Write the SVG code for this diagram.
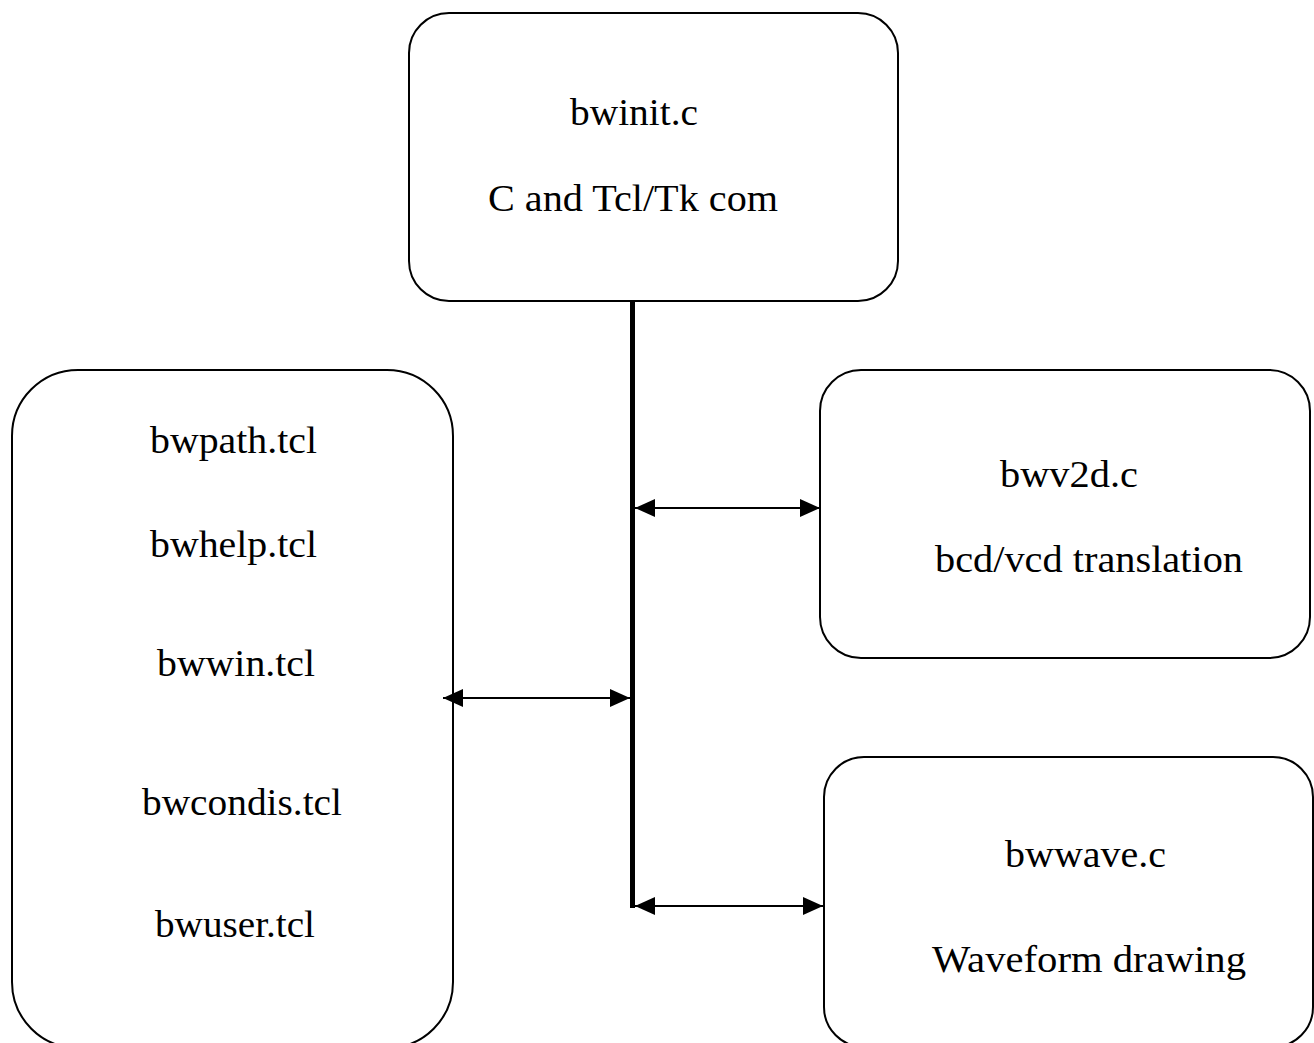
<svg xmlns="http://www.w3.org/2000/svg" width="1314" height="1043" viewBox="0 0 1314 1043">
<style>
.box{fill:#fff;stroke:#000;stroke-width:2}
.t{font-family:"Liberation Serif","Times New Roman",serif;font-size:38px;fill:#000}
.c{stroke:#000;stroke-width:2;fill:none}
</style>
<defs>
<marker id="ah" markerUnits="userSpaceOnUse" markerWidth="22" markerHeight="20" refX="20" refY="10" orient="auto-start-reverse" viewBox="0 0 22 20">
<path d="M0,1 L20,10 L0,19 Z" fill="#000"/>
</marker>
</defs>
<rect width="1314" height="1043" fill="#fff"/>
<g id="node-bwinit">
<rect class="box" x="409" y="13" width="489" height="288" rx="40" ry="40"/>
<text class="t" x="570" y="125" textLength="128" lengthAdjust="spacingAndGlyphs">bwinit.c</text>
<text class="t" x="488" y="211" textLength="290" lengthAdjust="spacingAndGlyphs">C and Tcl/Tk com</text>
</g>
<g id="node-tcl">
<rect class="box" x="12" y="370" width="441" height="678" rx="66" ry="66"/>
<text class="t" x="150" y="453" textLength="167" lengthAdjust="spacingAndGlyphs">bwpath.tcl</text>
<text class="t" x="150" y="557" textLength="167" lengthAdjust="spacingAndGlyphs">bwhelp.tcl</text>
<text class="t" x="157" y="676" textLength="158" lengthAdjust="spacingAndGlyphs">bwwin.tcl</text>
<text class="t" x="142" y="815" textLength="200" lengthAdjust="spacingAndGlyphs">bwcondis.tcl</text>
<text class="t" x="155" y="937" textLength="160" lengthAdjust="spacingAndGlyphs">bwuser.tcl</text>
</g>
<g id="node-bwv2d">
<rect class="box" x="820" y="370" width="490" height="288" rx="41" ry="41"/>
<text class="t" x="1000" y="487" textLength="138" lengthAdjust="spacingAndGlyphs">bwv2d.c</text>
<text class="t" x="935" y="572" textLength="308" lengthAdjust="spacingAndGlyphs">bcd/vcd translation</text>
</g>
<g id="node-bwwave">
<rect class="box" x="824" y="757" width="489" height="290" rx="40" ry="40"/>
<text class="t" x="1005" y="867" textLength="161" lengthAdjust="spacingAndGlyphs">bwwave.c</text>
<text class="t" x="932" y="972" textLength="314" lengthAdjust="spacingAndGlyphs">Waveform drawing</text>
</g>
<g id="connectors">
<line x1="632.5" y1="301" x2="632.5" y2="908" stroke="#000" stroke-width="5"/>
<line class="c" x1="635" y1="508" x2="820" y2="508" marker-start="url(#ah)" marker-end="url(#ah)"/>
<line class="c" x1="443" y1="698" x2="630" y2="698" marker-start="url(#ah)" marker-end="url(#ah)"/>
<line class="c" x1="635" y1="906" x2="823" y2="906" marker-start="url(#ah)" marker-end="url(#ah)"/>
</g>
</svg>
